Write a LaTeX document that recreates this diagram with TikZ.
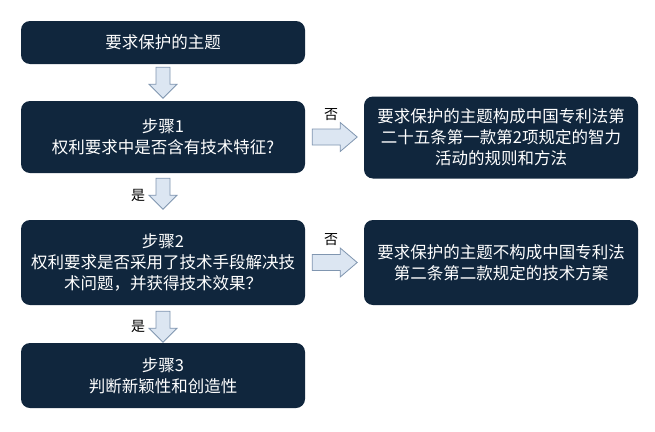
\documentclass[tikz,border=0pt]{standalone}
\usepackage{fontspec}
\newfontfamily\cjk{Noto Sans CJK SC}
\usetikzlibrary{calc}
\definecolor{navy}{HTML}{10263D}
\definecolor{arrfill}{HTML}{DCE6F2}
\definecolor{arrline}{HTML}{8096B0}
\tikzset{
  box/.style={fill=navy, rounded corners=9pt, text=white, align=center, inner sep=2pt,
    font=\cjk\fontsize{16.5}{21}\selectfont, minimum width=284pt},
  rbox/.style={box, minimum width=274pt},
  lbl/.style={font=\cjk\fontsize{14}{16}\selectfont, text=black, inner sep=0pt},
  downarr/.pic={\draw[arrline, fill=arrfill, line width=0.8pt, line join=miter]
     (-7,0) -- (7,0) -- (7,17) -- (14,17) -- (0,31) -- (-14,17) -- (-7,17) -- cycle;},
  rightarr/.pic={\draw[arrline, fill=arrfill, line width=0.8pt, line join=miter]
     (0,-8) -- (28,-8) -- (28,-14.5) -- (45,0) -- (28,14.5) -- (28,8) -- (0,8) -- cycle;}
}
\begin{document}
\begin{tikzpicture}[x=1pt,y=-1pt]
\fill[white] (0,0) rectangle (655,431);
\useasboundingbox (0,0) rectangle (655,431);
\node[box, minimum height=43pt] (b0) at (163,42.5) {要求保护的主题};
\node[box, minimum height=72pt] (b1) at (163,137) {步骤1\\权利要求中是否含有技术特征?};
\node[box, minimum height=85pt] (b2) at (163,262.5) {步骤2\\权利要求是否采用了技术手段解决技\\术问题，并获得技术效果？};
\node[box, minimum height=65pt] (b3) at (163,375.5) {步骤3\\判断新颖性和创造性};
\node[rbox, minimum height=82pt] (ra) at (501,137.5) {要求保护的主题构成中国专利法第\\二十五条第一款第2项规定的智力\\活动的规则和方法};
\node[rbox, minimum height=85pt] (rb) at (501,262.5) {要求保护的主题不构成中国专利法\\第二条第二款规定的技术方案};
\pic at ($(b0.south)+(0,3)$) {downarr};
\pic at ($(b1.south)+(0,5)$) {downarr};
\pic at ($(b2.south)+(0,6)$) {downarr};
\pic at ($(b1.east)+(7,0)$) {rightarr};
\pic at ($(b2.east)+(7,0)$) {rightarr};
\node[lbl] (y1) at (138,195) {是};
\node[lbl] (y2) at (138,326) {是};
\node[lbl] (n1) at (331,115) {否};
\node[lbl] (n2) at (331,240) {否};
\end{tikzpicture}
\end{document}
